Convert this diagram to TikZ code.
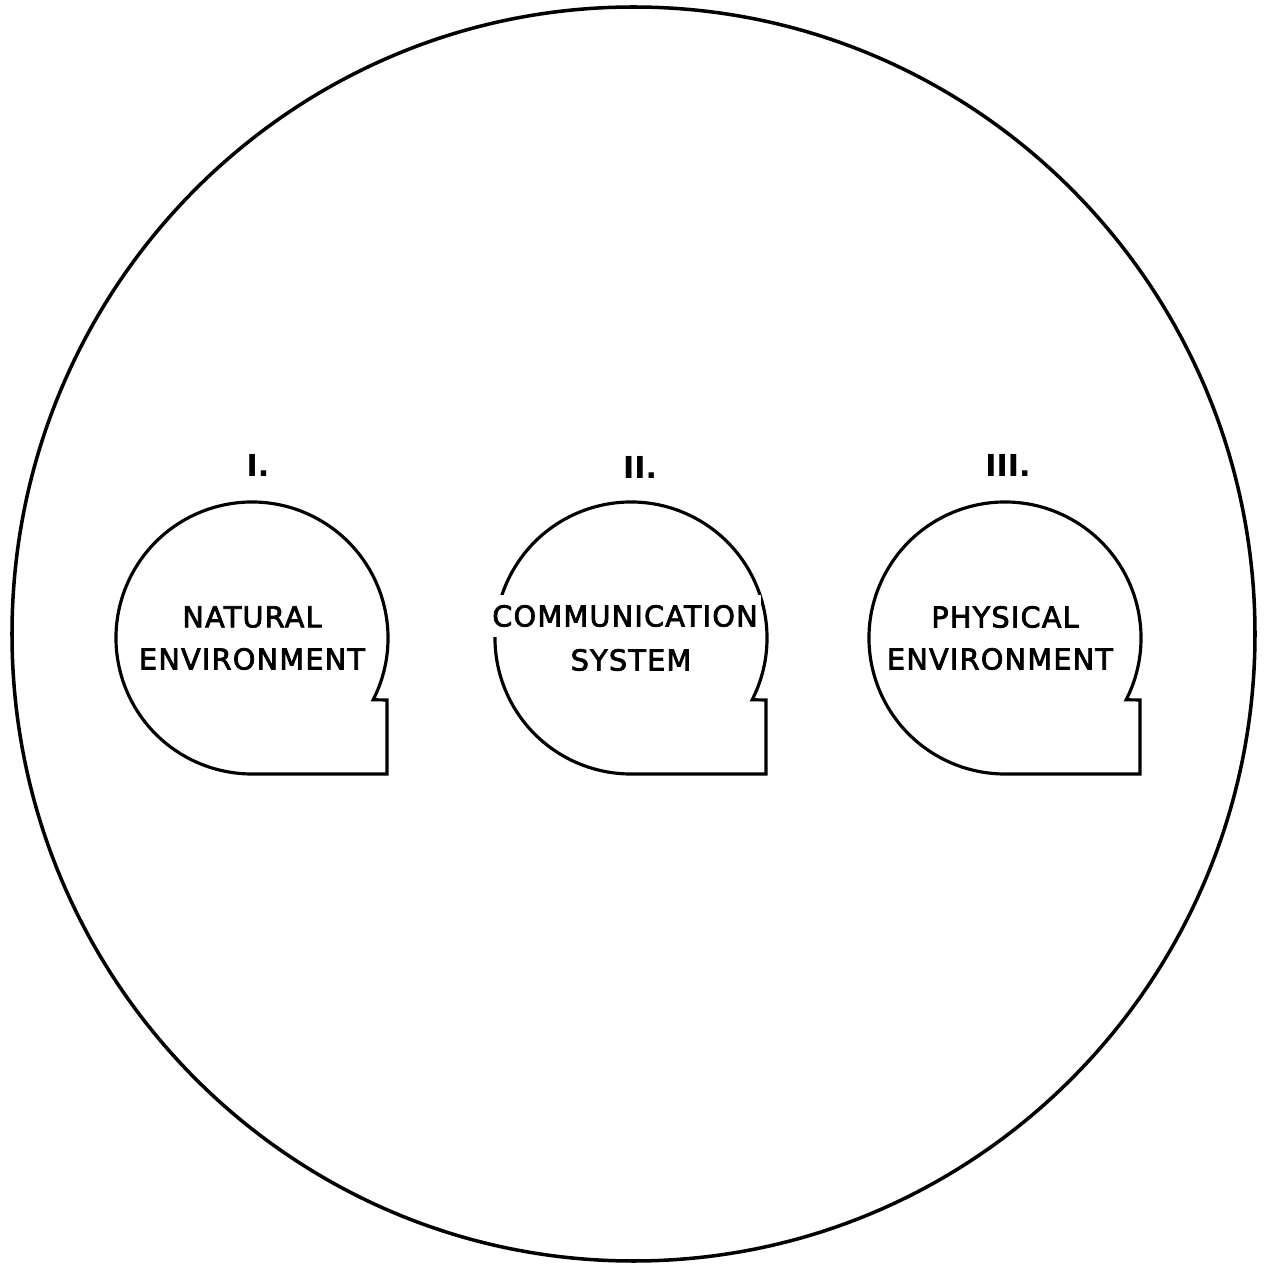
\documentclass[tikz,border=0pt]{standalone}
\usepackage{fontspec}
\setmainfont{DejaVu Sans}
\newfontfamily\lblfont[FakeBold=2.5, LetterSpace=4]{DejaVu Sans}
\usetikzlibrary{positioning}
\tikzset{
  outer/.style={
    draw=black,
    line width=1pt
  },
  blobline/.style={
    draw=black,
    line width=0.9pt,
    line join=miter
  },
  lbl/.style={
    font=\lblfont\fontsize{8.2}{10}\selectfont,
    inner sep=1pt,
    align=center
  },
  numeral/.style={
    font=\fontsize{8.6}{10}\selectfont\bfseries,
    inner sep=1pt
  },
  blob/.pic={
    \draw[blobline] (-27:1.36) arc[start angle=-27, end angle=270, radius=1.36]
      -- (1.35,-1.36) -- (1.35,-0.62) -- cycle;
  }
}

\begin{document}
\begin{tikzpicture}
    \useasboundingbox (0,0) rectangle (12.64,12.66);
    \draw[outer] (6.335,6.32) ellipse [x radius=6.215, y radius=6.27];

    \coordinate (nat) at (2.52,6.28);
    \coordinate (comm) at (6.31,6.28);
    \coordinate (phys) at (10.05,6.28);

    \pic at (nat) {blob};
    \pic at (comm) {blob};
    \pic at (phys) {blob};

    \node (one) [numeral] at (2.58,8.01) {I.};
    \node (two) [numeral] at (6.40,7.99) {II.};
    \node (three) [numeral] at (10.08,8.01) {III.};

    \node (natA) [lbl] at ([yshift=2.1mm]nat) {NATURAL};
    \node (natB) [lbl] at ([yshift=-2.1mm]nat) {ENVIRONMENT};
    \node (commA) [lbl, fill=white, inner ysep=3pt] at ([xshift=-0.6mm, yshift=2.2mm]comm) {COMMUNICATION};
    \node (commB) [lbl] at ([yshift=-2.2mm]comm) {SYSTEM};
    \node (physA) [lbl] at ([yshift=2.1mm]phys) {PHYSICAL};
    \node (physB) [lbl] at ([xshift=-0.5mm, yshift=-2.1mm]phys) {ENVIRONMENT};
\end{tikzpicture}
\end{document}
